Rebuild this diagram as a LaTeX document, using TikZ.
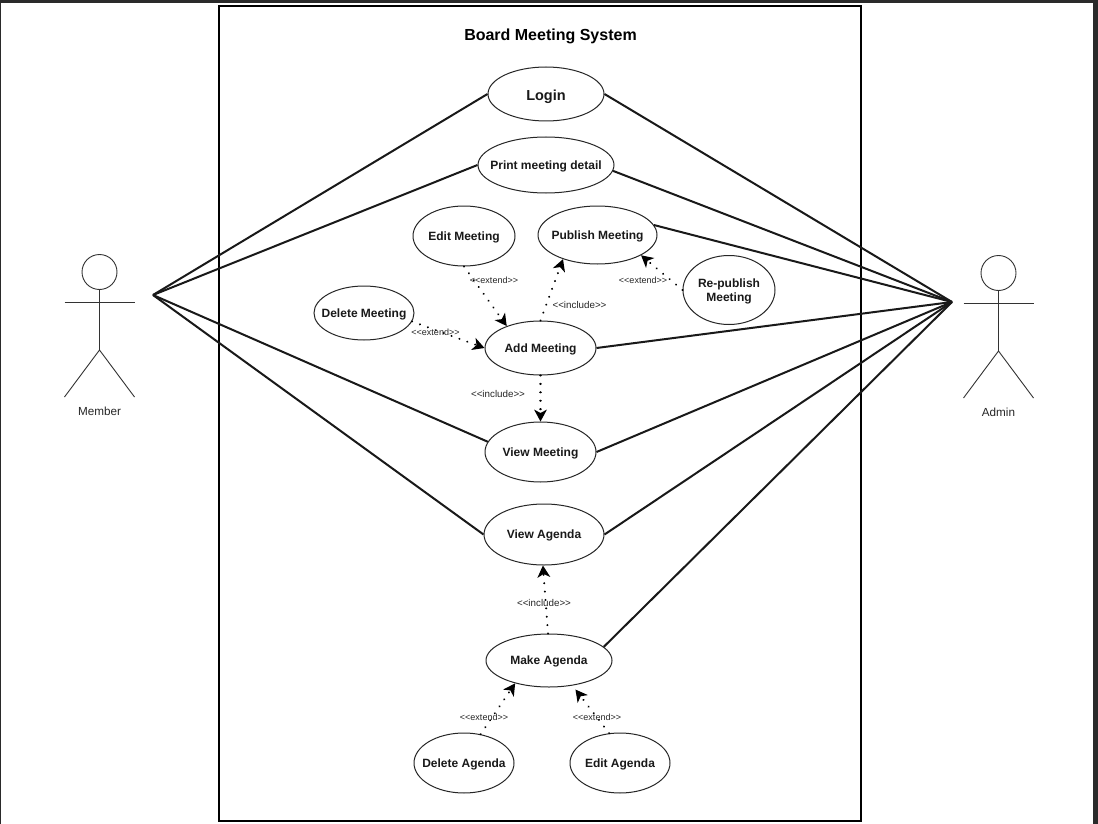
\documentclass[tikz,border=0pt]{standalone}
\usepackage{fontspec}
\setmainfont{Liberation Sans}
\usetikzlibrary{arrows.meta,shapes.geometric}
\definecolor{chrome}{HTML}{2A2A2A}
\tikzset{
  x=1pt,y=-1pt,
  usecase/.style={draw=black!85,line width=1pt,ellipse,inner sep=0pt},
  uctext/.style={inner sep=0pt,font=\bfseries\fontsize{12}{14}\selectfont,align=center,text=black!90},
  assoc/.style={draw=black!90,line width=2pt},
  dep/.style={draw=black,line width=2.2pt,line cap=round,dash pattern=on 0.01pt off 8.4pt,-{Stealth[inset=3.5pt,length=12pt,width=13pt,line width=0pt]}},
  deplabel/.style={font=\fontsize{9}{10}\selectfont,text=black!85,inner sep=0pt},
  inclabel/.style={font=\fontsize{9.8}{11}\selectfont,text=black!85,inner sep=0pt},
  actorline/.style={draw=black!80,line width=0.9pt},
  actorlabel/.style={font=\fontsize{11.7}{13}\selectfont,text=black!85,inner sep=0pt},
}
\newcommand{\uc}[6]{%
  \node[usecase,minimum width=#4pt,minimum height=#5pt] (#1) at (#2,#3) {};
  \node[uctext] (#1text) at (#2,#3+1) {#6};}
\newcommand{\actor}[4]{%
  \node[actorline,circle,draw,minimum size=35pt,inner sep=0pt] (#1head) at (#2,#3) {};
  \coordinate (#1hip) at (#2,#3+78);
  \coordinate (#1la) at (#2-35,#3+30);
  \coordinate (#1ra) at (#2+35,#3+30);
  \coordinate (#1ll) at (#2-35,#3+125);
  \coordinate (#1rl) at (#2+35,#3+125);
  \draw[actorline] (#1head.south) -- (#1hip);
  \draw[actorline] (#1la) -- (#1ra);
  \draw[actorline] (#1ll) -- (#1hip) -- (#1rl);
  \node[actorlabel] (#1label) at (#2,#3+139) {#4};
}
\newcommand{\ext}{<{}<extend>{}>}
\newcommand{\inc}{<{}<include>{}>}
\begin{document}
\begin{tikzpicture}
\useasboundingbox (0,0) rectangle (1098,824);
\fill[chrome] (0,0) rectangle (1098,824);
\fill[white] (1,3) rectangle (1093,824);
\node[draw=black,line width=2pt,minimum width=642pt,minimum height=815pt,inner sep=0pt] (frame) at (540,413.5) {};
\node[font=\bfseries\fontsize{16}{18}\selectfont,inner sep=0pt] (title) at (550.5,36) {Board Meeting System};

\node[usecase,minimum width=116pt,minimum height=54pt] (login) at (546,94) {};
\node[uctext,font=\bfseries\fontsize{14.5}{16}\selectfont] (logintext) at (546,96.5) {Login};
\uc{print}{546}{165}{136}{56}{Print meeting detail}
\uc{edit}{464}{236}{102}{60}{Edit Meeting}
\uc{publish}{597.5}{235}{119}{58}{Publish Meeting}
\uc{repub}{729}{290}{92}{69}{Re-publish\\Meeting}
\uc{delm}{364}{313}{100}{54}{Delete Meeting}
\uc{add}{540.5}{348}{111}{54}{Add Meeting}
\uc{viewm}{540.5}{452}{111}{60}{View Meeting}
\uc{viewa}{544}{534.5}{120}{61}{View Agenda}
\uc{make}{549}{660.5}{126}{53}{Make Agenda}
\uc{dela}{464}{763}{100}{60}{Delete Agenda}
\uc{edita}{620}{763}{100}{60}{Edit Agenda}

\actor{mem}{99.5}{272}{Member}
\actor{adm}{998.5}{273}{Admin}
\coordinate (mapex) at (153,295);
\coordinate (aapex) at (952,302);

\draw[assoc] (mapex) -- (login.west);
\draw[assoc] (mapex) -- (print.west);
\draw[assoc] (mapex) -- (viewm.169);
\draw[assoc] (mapex) -- (viewa.west);
\draw[assoc] (aapex) -- (login.east);
\draw[assoc] (aapex) -- (print.-5);
\draw[assoc] (aapex) -- (publish.10);
\draw[assoc] (aapex) -- (add.east);
\draw[assoc] (aapex) -- (viewm.east);
\draw[assoc] (aapex) -- (viewa.east);
\draw[assoc] (aapex) -- (make.14);

\draw[dep] (edit.south) -- (add.147);
\draw[dep] (delm.-10) -- (add.west);
\draw[dep] (add.north) -- (publish.-145);
\draw[dep] (repub.west) -- (publish.-25);
\draw[dep] (add.south) -- (viewm.north);
\draw[dep] (make.92) -- (viewa.-92);
\draw[dep] (dela.60) -- (make.-146);
\draw[dep,shorten >=5pt] (edita.110) -- (make.-47);

\node[deplabel] (l1) at (494,280) {\ext};
\node[inclabel] (l2) at (579.5,305) {\inc};
\node[deplabel] (l3) at (643,280.5) {\ext};
\node[deplabel] (l4) at (435.5,332) {\ext};
\node[inclabel] (l5) at (498,394) {\inc};
\node[inclabel] (l6) at (544,603) {\inc};
\node[deplabel] (l7) at (484,717) {\ext};
\node[deplabel] (l8) at (597,717) {\ext};
\end{tikzpicture}
\end{document}
